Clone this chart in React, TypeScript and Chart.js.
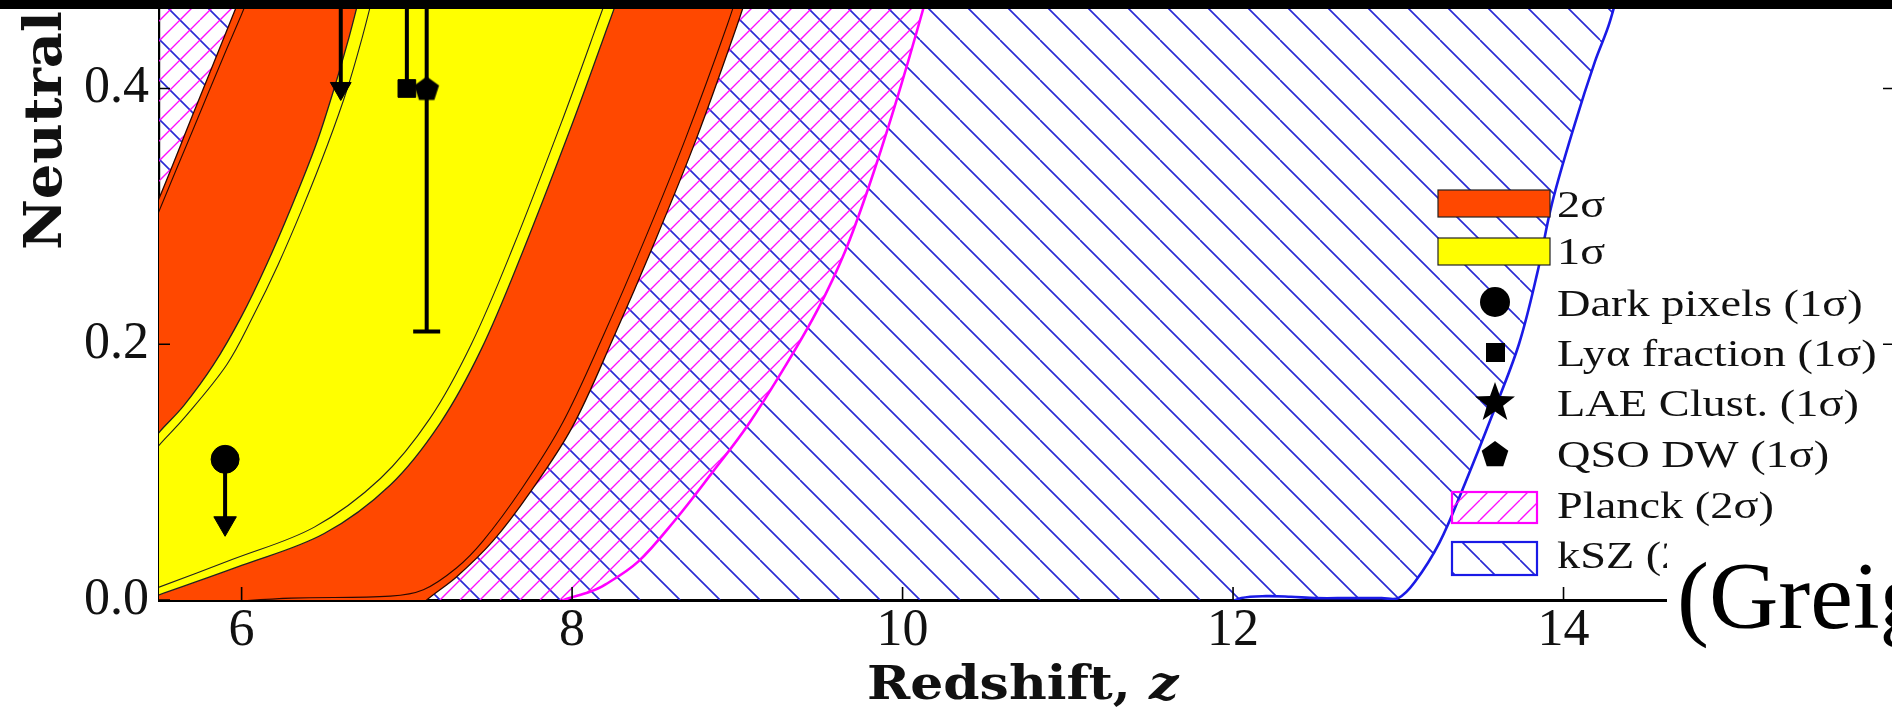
import React, { useEffect, useRef } from 'react';
import { Chart, registerables } from 'chart.js';

Chart.register(...registerables);

// ---------------- data ----------------
const zTicks = [6, 8, 10, 12, 14, 16];
const xhiTicks = [0, 0.2, 0.4, 0.6, 0.8, 1.0];

// 2-sigma band (orange): upper-left edge and its inner companion line
const s2LeftZ = [5.3, 5.5, 5.7, 5.9, 6.0, 6.1, 6.3];
const s2LeftX = [0.255, 0.314, 0.378, 0.442, 0.474, 0.505, 0.57];
const s2LeftInnerZ = [5.3, 5.5, 5.7, 5.9, 6.0, 6.1, 6.3];
const s2LeftInnerX = [0.24, 0.304, 0.366, 0.428, 0.458, 0.49, 0.55];
// 2-sigma band: lower-right edge and its inner companion line
const s2RightZ = [7.0, 7.12, 7.3, 7.52, 7.75, 8.0, 8.25, 8.5, 8.75, 9.0, 9.1, 9.3];
const s2RightX = [-0.015, 0.0, 0.018, 0.046, 0.085, 0.135, 0.205, 0.28, 0.36, 0.45, 0.49, 0.57];
const s2RightInnerZ = [5.85, 6.3, 6.9, 7.1, 7.3, 7.46, 7.7, 7.94, 8.19, 8.44, 8.69, 8.94, 9.04, 9.24];
const s2RightInnerX = [-0.002, 0.0015, 0.003, 0.008, 0.025, 0.046, 0.088, 0.138, 0.207, 0.282, 0.362, 0.45, 0.49, 0.57];

// 1-sigma band (yellow)
const s1LeftZ = [5.3, 5.5, 5.65, 5.83, 6.0, 6.15, 6.3, 6.45, 6.56, 6.65, 6.72, 6.85];
const s1LeftX = [0.1, 0.131, 0.152, 0.184, 0.222, 0.262, 0.307, 0.356, 0.4, 0.44, 0.475, 0.54];
const s1LeftInnerZ = [5.3, 5.5, 5.65, 5.91, 6.07, 6.22, 6.37, 6.52, 6.64, 6.73, 6.8, 6.93];
const s1LeftInnerX = [0.09, 0.121, 0.142, 0.184, 0.222, 0.262, 0.307, 0.356, 0.4, 0.44, 0.475, 0.54];
const s1RightZ = [5.3, 5.5, 6.0, 6.5, 6.9, 7.2, 7.45, 7.7, 8.0, 8.2, 8.3, 8.45];
const s1RightX = [-0.005, 0.004, 0.027, 0.052, 0.09, 0.138, 0.196, 0.272, 0.372, 0.443, 0.48, 0.55];
const s1RightInnerZ = [5.3, 5.5, 5.95, 6.44, 6.84, 7.14, 7.39, 7.64, 7.94, 8.14, 8.24, 8.39];
const s1RightInnerX = [0.0, 0.01, 0.032, 0.057, 0.095, 0.142, 0.2, 0.275, 0.375, 0.446, 0.483, 0.55];

// Planck (2 sigma) region right edge
const planckEdgeZ = [7.8, 7.95, 8.1, 8.2, 8.4, 8.62, 8.85, 9.06, 9.3, 9.49, 9.65, 9.79, 9.95, 10.12, 10.2, 10.35];
const planckEdgeX = [-0.01, 0.0, 0.006, 0.012, 0.03, 0.062, 0.1, 0.136, 0.185, 0.228, 0.272, 0.321, 0.385, 0.46, 0.5, 0.57];

// kSZ (2 sigma) region: floor and right edge
const kszFloorZ = [5.0, 11.95, 12.05, 12.2, 12.35, 12.5, 12.7, 12.9];
const kszFloorX = [-0.004, -0.004, 0.0015, 0.003, 0.0025, 0.0015, 0.0015, 0.0015];
const kszEdgeZ = [13.0, 13.1, 13.25, 13.4, 13.57, 13.73, 13.84, 13.93, 14.07, 14.19, 14.28, 14.4];
const kszEdgeX = [0.0015, 0.014, 0.045, 0.09, 0.145, 0.2, 0.255, 0.31, 0.373, 0.421, 0.452, 0.51];

// region closures (outside the visible window)
const closureLowZ = [5.3, 5.0];
const closureLowX = [-0.015, -0.02];
const closureTopZ = [10.5, 14.6, 5.0];
const closureTopX = [1.05, 1.05, 1.05];

// observational constraints
const darkPixelsZ = [5.9, 5.9];
const darkPixelsX = [0.11, 0.06];
const laeClustZ = [6.6, 6.6];
const laeClustX = [0.5, 0.4];
const lyaFracZ = [7.0, 7.0];
const lyaFracX = [0.4, 0.62];
const qsoDwZ = [7.12, 7.12, 7.12];
const qsoDwX = [0.21, 0.4, 0.61];

const legendLabels = ['2σ', '1σ', 'Dark pixels (1σ)', 'Lyα fraction (1σ)', 'LAE Clust. (1σ)', 'QSO DW (1σ)', 'Planck (2σ)', 'kSZ (2σ)'];
const yTitle = 'Neutral fraction, x̄';
const xTitleMain = 'Redshift, ';
const xTitleVar = 'z';
const citeText = '(Greig';

// ---------------- styling / layout ----------------
const OY = 720; // page y -> canvas y
const CW = 1920;
const CH = 1440;
const ORANGE = '#ff4800';
const YELLOW = '#ffff00';
const BLUE = '#1a1ae6';
const MAGENTA = '#ff00ff';

type P = { x: number; y: number };
const zip = (zs: number[], xs: number[]): P[] => zs.map((z, i) => ({ x: z, y: xs[i] }));

function makeHatch(ctx: CanvasRenderingContext2D, size: number, color: string, width: number, forward: boolean) {
  const c = document.createElement('canvas');
  c.width = size;
  c.height = size;
  const g = c.getContext('2d')!;
  g.strokeStyle = color;
  g.lineWidth = width;
  g.beginPath();
  for (let k = -1; k <= 1; k++) {
    if (forward) {
      g.moveTo(k * size, size);
      g.lineTo(k * size + size, 0);
    } else {
      g.moveTo(k * size, 0);
      g.lineTo(k * size + size, size);
    }
  }
  g.stroke();
  return ctx.createPattern(c, 'repeat')!;
}

function starPath(g: CanvasRenderingContext2D, cx: number, cy: number, R: number, r: number) {
  g.beginPath();
  for (let i = 0; i < 10; i++) {
    const a = -Math.PI / 2 + (i * Math.PI) / 5;
    const rad = i % 2 === 0 ? R : r;
    const px = cx + Math.cos(a) * rad;
    const py = cy + Math.sin(a) * rad;
    if (i === 0) g.moveTo(px, py);
    else g.lineTo(px, py);
  }
  g.closePath();
}

function pentagonPath(g: CanvasRenderingContext2D, cx: number, cy: number, r: number) {
  g.beginPath();
  for (let i = 0; i < 5; i++) {
    const a = -Math.PI / 2 + (i * 2 * Math.PI) / 5;
    const px = cx + Math.cos(a) * r;
    const py = cy + Math.sin(a) * r;
    if (i === 0) g.moveTo(px, py);
    else g.lineTo(px, py);
  }
  g.closePath();
}

function markerCanvas(kind: 'star' | 'pentagon', size: number) {
  const c = document.createElement('canvas');
  c.width = size;
  c.height = size;
  const g = c.getContext('2d')!;
  g.fillStyle = '#000';
  if (kind === 'star') starPath(g, size / 2, size / 2 + 1, size / 2 - 1, size / 5);
  else pentagonPath(g, size / 2, size / 2 + 1, size / 2 - 1);
  g.fill();
  return c;
}

function makeDecorations(blueHatch: CanvasPattern, magentaHatch: CanvasPattern) {
  return {
    id: 'decorations',
    afterDraw(chart: any) {
      const { ctx, chartArea } = chart;
      const { left, right, top, bottom } = chartArea;
      const xs = chart.scales.x;
      const ys = chart.scales.y;
      ctx.save();
      // inward ticks
      ctx.strokeStyle = '#000';
      ctx.lineWidth = 1.6;
      ctx.beginPath();
      zTicks.forEach((v) => {
        const p = xs.getPixelForValue(v);
        ctx.moveTo(p, bottom);
        ctx.lineTo(p, bottom - 13);
        ctx.moveTo(p, top);
        ctx.lineTo(p, top + 13);
      });
      xhiTicks.forEach((v) => {
        const p = ys.getPixelForValue(v);
        ctx.moveTo(left, p);
        ctx.lineTo(left + 11, p);
        ctx.moveTo(right, p);
        ctx.lineTo(right - 11, p);
      });
      ctx.stroke();
      ctx.lineWidth = 2;
      ctx.beginPath();
      ctx.moveTo(left, top);
      ctx.lineTo(right, top);
      ctx.lineTo(right, bottom);
      ctx.stroke();

      // axis titles
      ctx.fillStyle = '#111';
      ctx.save();
      ctx.font = 'bold 52px "DejaVu Serif"';
      ctx.textAlign = 'left';
      ctx.textBaseline = 'alphabetic';
      ctx.translate(61, 250 + OY);
      ctx.rotate(-Math.PI / 2);
      ctx.scale(1.07, 1);
      ctx.fillText(yTitle, 0, 0);
      ctx.restore();

      ctx.save();
      ctx.textBaseline = 'alphabetic';
      ctx.textAlign = 'left';
      ctx.translate(867, 699 + OY);
      ctx.scale(1.13, 1);
      ctx.font = 'bold 46px "DejaVu Serif"';
      ctx.fillText(xTitleMain, 0, 0);
      const w = ctx.measureText(xTitleMain).width;
      ctx.font = 'italic bold 46px "DejaVu Serif"';
      ctx.fillText(xTitleVar, w, 0);
      ctx.restore();

      // legend
      const lx = 1438;
      ctx.lineWidth = 1.2;
      ctx.strokeStyle = '#222';
      ctx.fillStyle = ORANGE;
      ctx.fillRect(lx, 190 + OY, 112, 27);
      ctx.strokeRect(lx, 190 + OY, 112, 27);
      ctx.fillStyle = YELLOW;
      ctx.fillRect(lx, 238 + OY, 112, 27);
      ctx.strokeRect(lx, 238 + OY, 112, 27);
      ctx.fillStyle = '#000';
      ctx.beginPath();
      ctx.arc(1495, 302 + OY, 15, 0, Math.PI * 2);
      ctx.fill();
      ctx.fillRect(1486, 343 + OY, 19, 19);
      starPath(ctx, 1495, 403 + OY, 21, 8.5);
      ctx.fill();
      pentagonPath(ctx, 1495, 455 + OY, 14);
      ctx.fill();
      ctx.fillStyle = magentaHatch;
      ctx.fillRect(1452, 492 + OY, 85, 31);
      ctx.strokeStyle = MAGENTA;
      ctx.lineWidth = 2.2;
      ctx.strokeRect(1452, 492 + OY, 85, 31);
      ctx.fillStyle = blueHatch;
      ctx.fillRect(1452, 542 + OY, 85, 33);
      ctx.strokeStyle = BLUE;
      ctx.strokeRect(1452, 542 + OY, 85, 33);

      const baselines = [217, 264, 316, 366, 416, 467, 518, 568];
      ctx.fillStyle = '#111';
      ctx.font = '38px "Liberation Serif"';
      ctx.textAlign = 'left';
      ctx.textBaseline = 'alphabetic';
      legendLabels.forEach((t, i) => {
        ctx.save();
        ctx.translate(1557, baselines[i] + OY);
        ctx.scale(1.22, 1);
        ctx.fillText(t, 0, 0);
        ctx.restore();
      });
      ctx.restore();
    },
  };
}

export default function App() {
  const canvasRef = useRef<HTMLCanvasElement | null>(null);

  useEffect(() => {
    const canvas = canvasRef.current;
    if (!canvas) return;
    const ctx = canvas.getContext('2d')!;
    const blueHatch = makeHatch(ctx, 40, 'rgba(30,30,210,0.95)', 1.6, false);
    const magentaHatch = makeHatch(ctx, 20, 'rgba(255,0,255,0.95)', 1.4, true);
    const star = markerCanvas('star', 40);
    const pent = markerCanvas('pentagon', 28);

    const orangePoly = [...zip(s2LeftZ, s2LeftX), ...zip(s2RightZ, s2RightX).reverse(), ...zip(closureLowZ.slice(0, 1), closureLowX.slice(0, 1))];
    const yellowPoly = [...zip(s1LeftZ, s1LeftX), ...zip(s1RightZ, s1RightX).reverse()];
    const planckPoly = [...zip(planckEdgeZ, planckEdgeX), ...zip(closureTopZ, closureTopX), ...zip(closureLowZ.slice(1), closureLowX.slice(1))];
    const kszPoly = [...zip(kszFloorZ, kszFloorX), ...zip(kszEdgeZ, kszEdgeX), ...zip(closureTopZ.slice(1), closureTopX.slice(1))];
    const kszLine = [...zip(kszFloorZ.slice(1), kszFloorX.slice(1)), ...zip(kszEdgeZ, kszEdgeX)];

    const base = { showLine: true, pointRadius: 0, pointHoverRadius: 0, tension: 0.35, capBezierPoints: false, fill: false };
    const none = 'rgba(0,0,0,0)';

    const chart = new Chart(canvas, {
      type: 'line',
      data: {
        datasets: [
          { ...base, data: kszPoly, fill: 'shape', backgroundColor: blueHatch, borderColor: none, borderWidth: 1, order: 30 },
          { ...base, data: planckPoly, fill: 'shape', backgroundColor: magentaHatch, borderColor: none, borderWidth: 1, order: 29 },
          { ...base, data: kszLine, borderColor: BLUE, borderWidth: 2.6, order: 28 },
          { ...base, data: zip(planckEdgeZ, planckEdgeX), borderColor: MAGENTA, borderWidth: 2.6, order: 27 },
          { ...base, data: orangePoly, fill: 'shape', backgroundColor: ORANGE, borderColor: '#2a0800', borderWidth: 1.3, order: 26 },
          { ...base, data: zip(s2LeftInnerZ, s2LeftInnerX), borderColor: '#2a0800', borderWidth: 1.1, order: 25 },
          { ...base, data: zip(s2RightInnerZ, s2RightInnerX), borderColor: '#2a0800', borderWidth: 1.1, order: 24 },
          { ...base, data: yellowPoly, fill: 'shape', backgroundColor: YELLOW, borderColor: '#222', borderWidth: 1.3, order: 23 },
          { ...base, data: zip(s1LeftInnerZ, s1LeftInnerX), borderColor: '#222', borderWidth: 1.1, order: 22 },
          { ...base, data: zip(s1RightInnerZ, s1RightInnerX), borderColor: '#222', borderWidth: 1.1, order: 21 },
          {
            ...base, tension: 0, data: zip(darkPixelsZ, darkPixelsX), borderColor: '#000', borderWidth: 4,
            pointStyle: ['circle', 'triangle'], pointRadius: [14, 13], pointRotation: [0, 180],
            pointBackgroundColor: '#000', pointBorderColor: '#000', pointBorderWidth: 1, order: 5,
          },
          {
            ...base, tension: 0, data: zip(laeClustZ, laeClustX), borderColor: '#000', borderWidth: 4,
            pointStyle: [star, 'triangle'], pointRadius: [18, 12], pointRotation: [0, 180],
            pointBackgroundColor: '#000', pointBorderColor: '#000', pointBorderWidth: 1, order: 4,
          },
          {
            ...base, tension: 0, data: zip(lyaFracZ, lyaFracX), borderColor: '#000', borderWidth: 4,
            pointStyle: ['rect', 'triangle'], pointRadius: [12.5, 12], pointRotation: [0, 0],
            pointBackgroundColor: '#000', pointBorderColor: '#000', pointBorderWidth: 1, order: 3,
          },
          {
            ...base, tension: 0, data: zip(qsoDwZ, qsoDwX), borderColor: '#000', borderWidth: 4,
            pointStyle: ['line', pent, 'line'], pointRadius: [13.5, 13, 13.5],
            pointBackgroundColor: '#000', pointBorderColor: '#000', pointBorderWidth: 4, order: 2,
          },
        ] as any,
      },
      options: {
        animation: false,
        responsive: false,
        devicePixelRatio: 1,
        events: [],
        layout: { padding: { top: 15, right: 23, left: 0, bottom: 0 } },
        plugins: { legend: { display: false }, tooltip: { enabled: false } },
        scales: {
          x: {
            type: 'linear',
            min: 5.5,
            max: 16,
            z: 1,
            afterBuildTicks: (s: any) => {
              s.ticks = zTicks.map((v) => ({ value: v }));
            },
            afterFit: (s: any) => {
              s.height = 120;
            },
            grid: { display: true, drawOnChartArea: false, drawTicks: false },
            border: { display: true, color: '#000', width: 3 },
            ticks: {
              color: '#111',
              padding: 0,
              maxRotation: 0,
              autoSkip: false,
              font: { family: 'Liberation Serif', size: 52 },
              callback: (v: any) => String(v),
            },
          },
          y: {
            type: 'linear',
            min: 0,
            max: 1,
            z: 1,
            afterBuildTicks: (s: any) => {
              s.ticks = xhiTicks.map((v) => ({ value: v }));
            },
            afterFit: (s: any) => {
              s.width = 159;
            },
            grid: { display: true, drawOnChartArea: false, drawTicks: false },
            border: { display: true, color: '#000', width: 2.2 },
            ticks: {
              color: '#111',
              padding: 10,
              autoSkip: false,
              font: { family: 'Liberation Serif', size: 52 },
              callback: (v: any) => Number(v).toFixed(1),
            },
          },
        },
      } as any,
      plugins: [makeDecorations(blueHatch, magentaHatch)],
    });
    return () => chart.destroy();
  }, []);

  return (
    <div style={{ position: 'fixed', left: 0, top: 0, width: 1892, height: 707, overflow: 'hidden', background: '#fff' }}>
      <canvas ref={canvasRef} width={CW} height={CH} style={{ position: 'absolute', left: 0, top: -OY, width: CW, height: CH }} />
      <div style={{ position: 'absolute', left: 0, top: 0, width: '100%', height: 9, background: '#000' }} />
      <div style={{ position: 'absolute', left: 1667, top: 527, right: 0, bottom: 0, background: '#fff', overflow: 'hidden' }}>
        <span style={{ position: 'absolute', left: 10, top: 21, fontFamily: '"Liberation Serif"', fontSize: 96, lineHeight: '96px', whiteSpace: 'nowrap', color: '#000' }}>
          {citeText}
        </span>
      </div>
    </div>
  );
}
